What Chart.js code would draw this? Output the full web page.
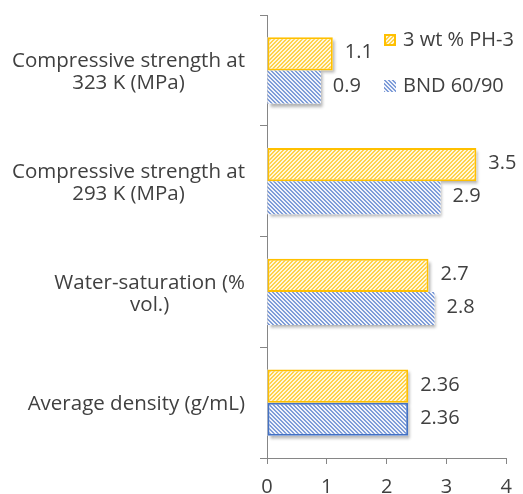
<!DOCTYPE html>
<html>
<head>
<meta charset="utf-8">
<script src="https://cdn.jsdelivr.net/npm/chart.js@4"></script>
<style>
  html, body { margin: 0; padding: 0; background: #fff; }
  #wrap { width: 523px; height: 494px; position: relative; }
</style>
</head>
<body>
<div id="wrap"><canvas id="chart"></canvas></div>
<script>
const categories = [
  ['Compressive strength at', '323 K (MPa)'],
  ['Compressive strength at', '293 K (MPa)'],
  ['Water-saturation (%', 'vol.)'],
  ['Average density (g/mL)']
];
const seriesNames = ['3 wt % PH-3', 'BND 60/90'];
const ph3Values = [1.1, 3.5, 2.7, 2.36];
const bndValues = [0.9, 2.9, 2.8, 2.36];
const valueLabels = [
  ['1.1', '3.5', '2.7', '2.36'],
  ['0.9', '2.9', '2.8', '2.36']
];
const xTicks = [0, 1, 2, 3, 4];

const FONT = '"Open Sans", sans-serif';
const TEXT = '#404040';
const GOLD = '#FFC000';
const BLUE = '#4472C4';

// hatch fill, built pixel by pixel: 2px stripes every 4px
function hatch(ink, paper, dir) {
  const s = 4;
  const c = document.createElement('canvas');
  c.width = s; c.height = s;
  const g = c.getContext('2d');
  for (let x = 0; x < s; x++) {
    for (let y = 0; y < s; y++) {
      const k = dir === '/' ? (x + y) % s : (x - y + s) % s;
      g.fillStyle = k < 2 ? ink : paper;
      g.fillRect(x, y, 1, 1);
    }
  }
  return g.createPattern(c, 'repeat');
}

const ctx = document.getElementById('chart').getContext('2d');
const goldFill = hatch('#FFD24A', '#FFF7DC', '/');
const blueFill = hatch('#7F9DD8', '#F0F3FB', '\\');

// soft shadow under each bar, drawn before the bars themselves
const barShadow = {
  id: 'barShadow',
  beforeDatasetsDraw(chart) {
    const c = chart.ctx;
    c.save();
    c.shadowColor = 'rgba(0,0,0,0.3)';
    c.shadowBlur = 3;
    c.shadowOffsetX = 2;
    c.shadowOffsetY = 3;
    c.fillStyle = '#fff';
    chart.data.datasets.forEach((ds, di) => {
      chart.getDatasetMeta(di).data.forEach(bar => {
        const l = Math.min(bar.base, bar.x);
        const w = Math.abs(bar.x - bar.base);
        c.fillRect(l, bar.y - bar.height / 2, w, bar.height);
      });
    });
    c.restore();
  }
};

// value labels at the bar ends
const valueText = {
  id: 'valueText',
  afterDatasetsDraw(chart) {
    const c = chart.ctx;
    c.save();
    c.font = '20px ' + FONT;
    c.fillStyle = TEXT;
    c.textAlign = 'left';
    c.textBaseline = 'middle';
    chart.data.datasets.forEach((ds, di) => {
      chart.getDatasetMeta(di).data.forEach((bar, i) => {
        c.fillText(valueLabels[di][i], bar.x + 12, bar.y - 1);
      });
    });
    c.restore();
  }
};

// category labels: block right-aligned to axis, lines centred inside block
const catLabels = {
  id: 'catLabels',
  afterDraw(chart) {
    const c = chart.ctx;
    const y = chart.scales.y;
    const right = 245;
    const lh = 22;
    c.save();
    c.font = '20.5px ' + FONT;
    c.fillStyle = TEXT;
    c.textAlign = 'center';
    c.textBaseline = 'middle';
    categories.forEach((lines, i) => {
      const w = Math.max(...lines.map(l => c.measureText(l).width));
      const cx = right - w / 2;
      const cy = y.getPixelForValue(i) + 2;
      lines.forEach((l, k) => {
        c.fillText(l, cx, cy + (k - (lines.length - 1) / 2) * lh);
      });
    });
    c.restore();
  }
};

// legend inside the plot, top right
const legendBox = {
  id: 'legendBox',
  afterDraw(chart) {
    const c = chart.ctx;
    c.save();
    c.font = '20px ' + FONT;
    c.textBaseline = 'middle';
    const rows = [40, 86];
    chart.data.datasets.forEach((ds, di) => {
      const yy = rows[di];
      c.fillStyle = ds.backgroundColor;
      c.fillRect(384, yy - 6, 12, 12);
      if (di === 0) {
        c.strokeStyle = GOLD;
        c.lineWidth = 2;
        c.strokeRect(385, yy - 5, 10, 10);
      }
      c.fillStyle = TEXT;
      c.fillText(ds.label, 403, yy);
    });
    c.restore();
  }
};

new Chart(ctx, {
  type: 'bar',
  data: {
    labels: categories,
    datasets: [
      {
        label: seriesNames[0],
        data: ph3Values,
        backgroundColor: goldFill,
        borderColor: GOLD,
        borderWidth: 2,
        borderSkipped: false
      },
      {
        label: seriesNames[1],
        data: bndValues,
        backgroundColor: blueFill,
        borderColor: BLUE,
        borderWidth: [0, 0, 0, 2],
        borderSkipped: false
      }
    ]
  },
  options: {
    indexAxis: 'y',
    responsive: true,
    maintainAspectRatio: false,
    animation: false,
    events: [],
    layout: { padding: { top: 15, right: 15, left: 0, bottom: 0 } },
    datasets: { bar: { categoryPercentage: 0.6, barPercentage: 1.0 } },
    plugins: { legend: { display: false }, tooltip: { enabled: false } },
    scales: {
      x: {
        min: 0, max: 4,
        afterBuildTicks(s) { s.ticks = xTicks.map(v => ({ value: v })); },
        afterFit(s) { s.height = 36; },
        border: { color: '#868686', width: 1 },
        grid: { drawOnChartArea: false, drawTicks: true, tickLength: 6, color: '#868686' },
        ticks: { color: TEXT, font: { family: FONT, size: 20 }, padding: 11 }
      },
      y: {
        afterFit(s) { s.width = 267; },
        border: { color: '#868686', width: 1 },
        grid: { offset: true, drawOnChartArea: false, drawTicks: true, tickLength: 7, color: '#868686' },
        ticks: { display: false }
      }
    }
  },
  plugins: [barShadow, valueText, catLabels, legendBox]
});
</script>
</body>
</html>
